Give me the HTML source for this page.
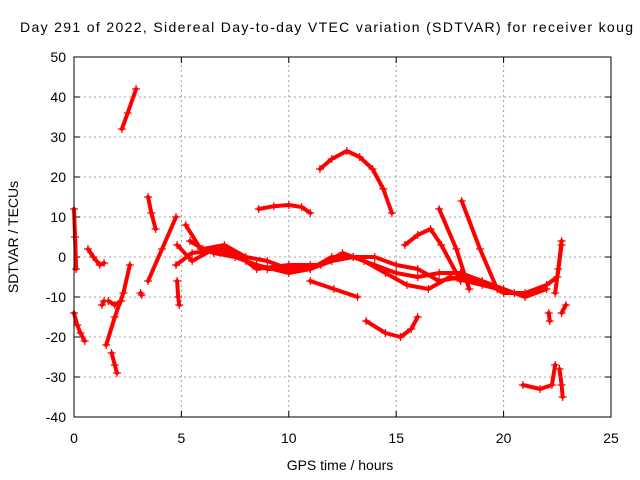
<!DOCTYPE html>
<html><head><meta charset="utf-8"><style>
body{margin:0;background:#fff}
svg{display:block;font-family:"Liberation Sans",sans-serif}
</style></head><body>
<svg id="chart" width="640" height="480">
<rect width="640" height="480" fill="#fff"/>
<text x="20" y="32" font-size="14" textLength="613" lengthAdjust="spacing">Day 291 of 2022, Sidereal Day-to-day VTEC variation (SDTVAR) for receiver koug</text>
<g id="grid"></g>
<g id="ticks" font-size="14"></g>
<g id="series"></g>
<rect x="74" y="57" width="537" height="360" fill="none" stroke="#000"/>
<text x="340" y="470" font-size="14" text-anchor="middle">GPS time / hours</text>
<text x="18" y="237" font-size="14" text-anchor="middle" transform="rotate(-90 18 237)">SDTVAR / TECUs</text>
</svg>
<script>
const xTicks=[0,5,10,15,20,25];
const yTicks=[50,40,30,20,10,0,-10,-20,-30,-40];
const trackUpperLeft=[[2.23,32],[2.5,36],[2.89,42]];
const trackStart=[[0,12],[0.05,5],[0.1,-3]];
const trackStartLow=[[0,-14],[0.15,-17],[0.3,-19],[0.5,-21]];
const trackEarly=[[0.65,2],[0.9,0],[1.2,-2],[1.4,-1.5]];
const trackEarly2=[[1.3,-12],[1.4,-11]];
const trackRise=[[1.5,-22],[1.9,-15],[2.3,-9],[2.6,-2]];
const trackDrop=[[1.75,-24],[1.9,-27],[2.0,-29]];
const trackFlat=[[1.6,-11],[1.9,-12],[2.2,-11]];
const trackDot=[[3.1,-9],[3.15,-9.5]];
const trackMid=[[3.45,15],[3.6,11],[3.8,7]];
const trackRise2=[[3.45,-6],[4.1,2],[4.75,10]];
const trackDip5=[[4.8,-6],[4.85,-10],[4.9,-12]];
const trackA=[[4.75,-2],[5.5,1],[7,2],[8,-1],[9,-3],[10,-3],[11,-3],[12,0],[13,0],[14,-2],[15,-4],[16,-5],[17,-4],[18,-4],[19,-6],[20,-9],[21,-9],[22,-7],[22.5,-5],[22.7,3]];
const trackB=[[5.2,8],[5.9,2],[6.5,1],[7.5,0],[8.5,-2],[10,-4],[11,-3],[12,-1],[13,0],[14,0],[15,-2],[16,-3],[17,-6],[18,-5],[19,-6],[20,-8],[21,-10],[22,-8]];
const trackC=[[4.8,3],[5.5,-1],[6.5,2],[7.5,1],[8.5,-3],[10,-2],[11.5,-2],[12.5,1],[13.5,-1],[14.5,-4],[15.5,-7],[16.5,-8],[17.5,-5],[19,-7],[20.5,-9]];
const trackD=[[5.4,4],[6,2],[7,3],[8,0],[9,-1],[10,-3],[11,-2]];
const trackUpper=[[8.6,12],[9.3,12.7],[10,13],[10.6,12.5],[11,11]];
const trackArc=[[11.45,22],[12,24.5],[12.7,26.5],[13.3,25],[13.9,22],[14.4,17],[14.8,11]];
const trackLow=[[11,-6],[12.1,-8],[13.2,-10]];
const trackBowl=[[13.6,-16],[14.5,-19],[15.2,-20],[15.7,-18],[16,-15]];
const trackHump=[[15.4,3],[16,5.5],[16.6,7],[17.1,3],[18,-6]];
const trackFall1=[[17.0,12],[17.8,2],[18.4,-8]];
const trackFall2=[[18.05,14],[18.9,2],[19.7,-8]];
const trackBottom=[[20.9,-32],[21.7,-33],[22.25,-32],[22.4,-27]];
const trackBottom2=[[22.6,-28],[22.7,-32],[22.75,-35]];
const trackEnd1=[[22.1,-14],[22.15,-16]];
const trackEnd2=[[22.7,-14],[22.9,-12]];
const trackEnd3=[[22.4,-9],[22.55,-3],[22.7,4]];
const tracks=[trackUpperLeft,trackStart,trackStartLow,trackEarly,trackEarly2,trackRise,trackDrop,trackFlat,trackDot,trackMid,trackRise2,trackDip5,trackA,trackB,trackC,trackD,trackUpper,trackArc,trackLow,trackBowl,trackHump,trackFall1,trackFall2,trackBottom,trackBottom2,trackEnd1,trackEnd2,trackEnd3];
const X0=74,X1=611,Y0=417,Y1=57;
const xs=t=>X0+(t-0)/25*(X1-X0);
const ys=v=>Y0-(v+40)/90*(Y0-Y1);
const NS="http://www.w3.org/2000/svg";
const grid=document.getElementById('grid'),ticks=document.getElementById('ticks'),ser=document.getElementById('series');
function mk(tag,attrs,parent){const e=document.createElementNS(NS,tag);for(const k in attrs)e.setAttribute(k,attrs[k]);parent.appendChild(e);return e;}
xTicks.forEach(t=>{const x=xs(t);
 if(t>0&&t<25){const g=mk('line',{x1:x,x2:x,y1:Y0,y2:Y1,stroke:'#a0a0a0','stroke-dasharray':'2,3'},grid);
 
 }
 mk('line',{x1:x,x2:x,y1:Y0,y2:Y0-6,stroke:'#000'},ticks);
 mk('line',{x1:x,x2:x,y1:Y1,y2:Y1+6,stroke:'#000'},ticks);
 const l=mk('text',{x:x,y:Y0+26,'text-anchor':'middle'},ticks);l.textContent=t;
 
 });
yTicks.forEach(v=>{const y=ys(v);
 if(v>-40&&v<50){const g=mk('line',{x1:X0,x2:X1,y1:y,y2:y,stroke:'#a0a0a0','stroke-dasharray':'2,3'},grid);
 
 }
 mk('line',{x1:X0,x2:X0+6,y1:y,y2:y,stroke:'#000'},ticks);
 mk('line',{x1:X1,x2:X1-6,y1:y,y2:y,stroke:'#000'},ticks);
 const l=mk('text',{x:X0-8,y:y+5,'text-anchor':'end'},ticks);l.textContent=v;
 
 });
tracks.forEach((tr,i)=>{
 const p=mk('polyline',{points:tr.map(d=>xs(d[0])+','+ys(d[1])).join(' '),fill:'none',stroke:'#ff0000','stroke-width':4,'stroke-linejoin':'round','stroke-linecap':'round'},ser);
 
 
 tr.forEach(d=>{const x=xs(d[0]),y=ys(d[1]);
  const m=mk('path',{d:`M${x-4},${y}H${x+4}M${x},${y-4}V${y+4}`,stroke:'#ff0000','stroke-width':1.2},ser);
  
  });
});
</script>
</body></html>
